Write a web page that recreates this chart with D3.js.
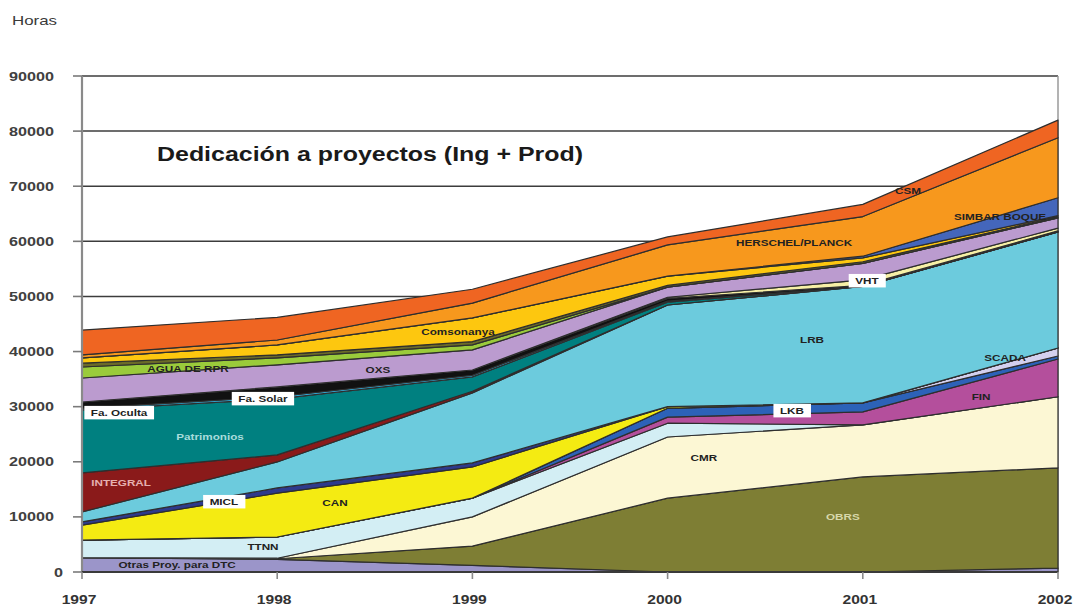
<!DOCTYPE html>
<html><head><meta charset="utf-8">
<script src="https://cdn.jsdelivr.net/npm/d3@7"></script>
<style>
body{margin:0;background:#fff}
svg{display:block}
text{font-family:Arial,"Liberation Sans",sans-serif}
</style></head>
<body><svg width="1073" height="606"></svg>
<script>
// ---- data ----
const years = [1997, 1998, 1999, 2000, 2001, 2002];
const yTicks = [0, 10000, 20000, 30000, 40000, 50000, 60000, 70000, 80000, 90000];

const otras       = [2600, 2300, 1200, 0, 0, 700];
const obrs        = [0, 100, 3500, 13400, 17250, 18200];
const cmr         = [0, 100, 5300, 11100, 9450, 12900];
const ttnn        = [3200, 3850, 3400, 2500, 0, 0];
const fin         = [0, 0, 0, 1100, 2350, 6850];
const lkb         = [0, 0, 0, 1600, 1650, 550];
const scada       = [0, 0, 0, 0, 0, 1450];
const can         = [2700, 7950, 5660, 300, 0, 0];
const micl        = [600, 950, 740, 0, 0, 0];
const lrb         = [1800, 4720, 12700, 18450, 21100, 21050];
const integral    = [7100, 1270, 300, 0, 0, 0];
const patrimonios = [11400, 10160, 2600, 500, 0, 0];
const faOculta    = [300, 400, 300, 200, 0, 0];
const faSolar     = [1150, 1780, 950, 500, 200, 200];
const vht         = [0, 0, 0, 200, 1000, 500];
const oxs         = [4350, 4020, 3650, 1850, 3000, 1850];
const agua        = [2000, 1250, 900, 0, 0, 0];
const otros       = [700, 550, 600, 300, 300, 200];
const consorcio   = [950, 1800, 4300, 1700, 700, 200];
const simbar      = [0, 0, 0, 0, 300, 3250];
const herschel    = [550, 900, 2700, 5650, 7200, 10900];
const csm         = [4500, 4100, 2500, 1450, 2200, 3200];

const seriesNames = ["otras","obrs","cmr","ttnn","fin","lkb","scada","can","micl","lrb","integral",
  "patrimonios","faOculta","faSolar","vht","oxs","agua","otros","consorcio","simbar","herschel","csm"];
const seriesValues = [otras,obrs,cmr,ttnn,fin,lkb,scada,can,micl,lrb,integral,
  patrimonios,faOculta,faSolar,vht,oxs,agua,otros,consorcio,simbar,herschel,csm];

// styles (kept apart from data)
const seriesColors = ["#9b95c9","#7e7e34","#fcf7d4","#d3eef4","#b44f9c","#2c62b8","#d3d0ee","#f4eb12",
  "#2e3a8c","#6ccbdd","#8a1a1a","#008080","#33b8e8","#111111","#f7f0a6","#bb9bcf","#9acb3b",
  "#6b6b28","#fdc70f","#4466bb","#f7981d","#ef6522"];

// area labels: [text, year, value]
const labelTexts  = ["Otras Proy. para DTC","TTNN","CAN","MICL","INTEGRAL","Patrimonios","Fa. Oculta","Fa. Solar",
  "AGUA DE RPR","OXS","Comsonanya","LRB","LKB","CMR","OBRS","FIN","SCADA","VHT","SIMBAR BOQUE","HERSCHEL/PLANCK","CSM"];
const labelYears  = [1997.487,1997.927,1998.296,1997.727,1997.2,1997.656,1997.19,1997.927,
  1997.543,1998.516,1998.926,2000.74,2000.637,2000.186,2000.898,2001.606,2001.729,2001.021,2001.703,2000.648,2001.232];
const labelValues = [1270,4540,12520,12700,16150,24500,28860,31400,
  36840,36660,43560,42100,29220,20690,9980,31760,38840,52800,64430,59710,69150];
const labelBoxed  = ["MICL","Fa. Oculta","Fa. Solar","LKB","VHT"];
const labelLight  = {"INTEGRAL":"#e6b0b0","Patrimonios":"#a8dcdc","OBRS":"#d8d8aa"};

// ---- chart ----
const svg = d3.select("svg");
const x = d3.scaleLinear().domain([1997, 2002]).range([82, 1058]);
const y = d3.scaleLinear().domain([0, 90000]).range([572, 76]);

function stretchedText(g, px, py, txt, size, weight, fill, sx, anchor) {
  return g.append("text")
    .attr("transform", `translate(${px},${py}) scale(${sx},1)`)
    .attr("text-anchor", anchor || "middle")
    .attr("font-size", size).attr("font-weight", weight).attr("fill", fill)
    .text(txt);
}

// gridlines
svg.append("g").selectAll("line").data(yTicks.filter(t => t > 0)).join("line")
  .attr("x1", x(1997)).attr("x2", x(2002))
  .attr("y1", d => y(d)).attr("y2", d => y(d))
  .attr("stroke", "#3c3c3c").attr("stroke-width", 1.5);
svg.append("line").attr("x1", x(2002)).attr("x2", x(2002)).attr("y1", y(90000)).attr("y2", y(0))
  .attr("stroke", "#9a9a9a").attr("stroke-width", 1.5);

// stacked areas
const rows = years.map((yr, i) => {
  const r = {year: yr};
  seriesNames.forEach((n, k) => r[n] = seriesValues[k][i]);
  return r;
});
const stacked = d3.stack().keys(seriesNames)(rows);
const area = d3.area().x(d => x(d.data.year)).y0(d => y(d[0])).y1(d => y(d[1]));
svg.append("g").selectAll("path").data(stacked).join("path")
  .attr("d", area)
  .attr("fill", (d, i) => seriesColors[i])
  .attr("stroke", "#2e2e2e").attr("stroke-width", 1.2).attr("stroke-linejoin", "round");

// axes
svg.append("line").attr("x1", x(1997)).attr("x2", x(1997)).attr("y1", y(90000)).attr("y2", y(0))
  .attr("stroke", "#8a8a8a").attr("stroke-width", 2.2);
svg.append("g").selectAll("line").data(yTicks).join("line")
  .attr("x1", x(1997) - 9).attr("x2", x(1997)).attr("y1", d => y(d)).attr("y2", d => y(d))
  .attr("stroke", "#7a7a7a").attr("stroke-width", 1.6);
svg.append("line").attr("x1", x(1997)).attr("x2", x(2002)).attr("y1", y(0)).attr("y2", y(0))
  .attr("stroke", "#3a3a3a").attr("stroke-width", 2);
svg.append("g").selectAll("line").data(years).join("line")
  .attr("x1", d => x(d)).attr("x2", d => x(d)).attr("y1", y(0)).attr("y2", y(0) + 7)
  .attr("stroke", "#8a8a8a").attr("stroke-width", 1.6);

const gy = svg.append("g");
yTicks.forEach(t => stretchedText(gy, t === 0 ? 63 : 54, y(t) + 4.5, String(t), 12, "bold", "#404040", 1.35, "end"));
const gx = svg.append("g");
years.forEach(yr => stretchedText(gx, x(yr) - 3, 604, String(yr), 13, "bold", "#333", 1.2, "middle"));

stretchedText(svg, 12, 25, "Horas", 12.5, "normal", "#3a3a3a", 1.35, "start");
stretchedText(svg, 157, 161, "Dedicación a proyectos (Ing + Prod)", 19.5, "bold", "#1a1a1a", 1.28, "start");

// area labels
const gl = svg.append("g");
labelTexts.forEach((t, i) => {
  const px = x(labelYears[i]), py = y(labelValues[i]);
  const g = gl.append("g").attr("transform", `translate(${px},${py}) scale(1.3,1)`);
  const txt = g.append("text").attr("text-anchor", "middle").attr("y", 3.2)
    .attr("font-size", 9).attr("font-weight", "bold")
    .attr("fill", labelLight[t] || "#222").text(t);
  if (labelBoxed.includes(t)) {
    const b = txt.node().getBBox();
    g.insert("rect", "text").attr("x", b.x - 5).attr("y", b.y - 2.5)
      .attr("width", b.width + 10).attr("height", b.height + 4).attr("fill", "#fff");
  }
});
</script>
</body></html>
